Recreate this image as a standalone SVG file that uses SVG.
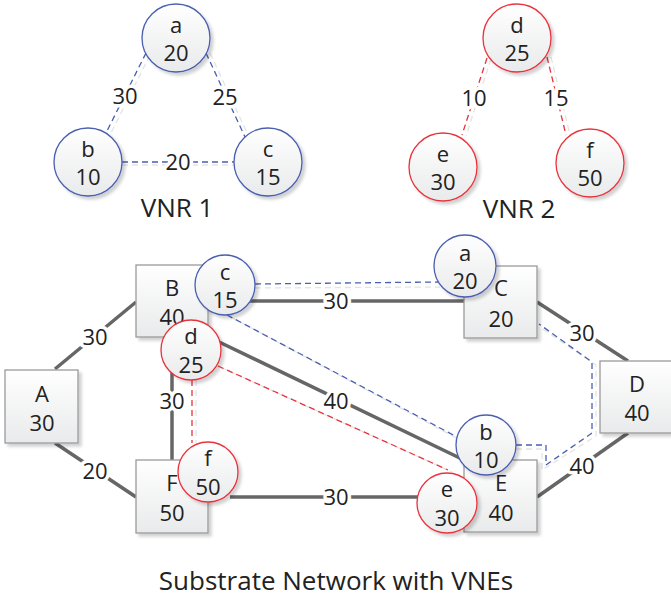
<svg xmlns="http://www.w3.org/2000/svg" width="671" height="599" viewBox="0 0 671 599">
<style>
text{font-family:"Open Sans","Liberation Sans",sans-serif;fill:#222;text-anchor:middle;dominant-baseline:central}
.n{font-size:22px}
.lbl{font-size:22px;paint-order:stroke;stroke:#fff;stroke-width:7px;stroke-linejoin:round}
.cap{font-size:26px}
.sub{stroke:#666;stroke-width:3.5;fill:none}
.vb{stroke:#4a5fb0;stroke-width:1.3;stroke-dasharray:6 4;fill:none}
.vr{stroke:#e8333c;stroke-width:1.3;stroke-dasharray:6 4;fill:none}
.sh{stroke:#e4e4e4;stroke-width:1.3;stroke-dasharray:6 4;fill:none}
.rect{fill:url(#g);stroke:#9a9a9a;stroke-width:1.3;filter:url(#ds)}
.cb{fill:url(#g);stroke:#4a5fb0;stroke-width:1.3;filter:url(#ds)}
.cr{fill:url(#g);stroke:#e8333c;stroke-width:1.3;filter:url(#ds)}
</style>
<defs>
<linearGradient id="g" x1="0" y1="0" x2="0" y2="1">
<stop offset="0" stop-color="#ffffff"/>
<stop offset="1" stop-color="#e9eaeb"/>
</linearGradient>
<filter id="ds" x="-20%" y="-20%" width="150%" height="150%">
<feDropShadow dx="3" dy="3" stdDeviation="1.5" flood-color="#000" flood-opacity="0.18"/>
</filter>
</defs>

<g id="connectors">
<!-- VNR1 -->
<line class="sh" x1="150" y1="55" x2="110" y2="135"/>
<line class="vb" x1="146" y1="53" x2="106" y2="133"/>
<line class="sh" x1="210" y1="53" x2="249" y2="137"/>
<line class="vb" x1="206" y1="53" x2="245" y2="137"/>
<line class="sh" x1="122" y1="165" x2="234" y2="165"/>
<line class="vb" x1="122" y1="162" x2="234" y2="162"/>
<text class="lbl" x="125" y="95">30</text>
<text class="lbl" x="225" y="96">25</text>
<text class="lbl" x="178" y="161">20</text>
<!-- VNR2 -->
<line class="sh" x1="491" y1="59" x2="466" y2="136"/>
<line class="vr" x1="487" y1="58" x2="462" y2="135"/>
<line class="sh" x1="551" y1="57" x2="570" y2="135"/>
<line class="vr" x1="547" y1="57" x2="566" y2="135"/>
<text class="lbl" x="474" y="97">10</text>
<text class="lbl" x="556" y="97">15</text>
<!-- Substrate -->
<line class="sub" x1="55" y1="369" x2="136" y2="302"/>
<line class="sub" x1="55" y1="443" x2="136" y2="497"/>
<line class="sub" x1="172" y1="337" x2="172" y2="460"/>
<line class="sub" x1="240" y1="301" x2="465" y2="301"/>
<line class="sub" x1="537" y1="302" x2="628" y2="361"/>
<line class="sub" x1="537" y1="497" x2="628" y2="433"/>
<line class="sub" x1="215" y1="340" x2="466" y2="461"/>
<line class="sub" x1="230" y1="497" x2="420" y2="497"/>
<!-- virtual mapped links -->
<line class="sh" x1="255" y1="288" x2="440" y2="287"/>
<line class="vb" x1="255" y1="284" x2="438" y2="282"/>
<line class="sh" x1="231" y1="317" x2="460" y2="440"/>
<line class="vb" x1="227" y1="315" x2="457" y2="437"/>
<line class="sh" x1="222" y1="368" x2="452" y2="472"/>
<line class="vr" x1="218" y1="366" x2="448" y2="470"/>
<line class="sh" x1="196" y1="380" x2="196" y2="443"/>
<line class="vr" x1="192" y1="380" x2="192" y2="443"/>
<polyline class="sh" points="516,449 542,449 542,470 596,436 596,365 541,328"/>
<polyline class="vb" points="516,445 546,445 546,465 592,433 592,362 539,324"/>
<text class="lbl" x="95" y="336">30</text>
<text class="lbl" x="95" y="470">20</text>
<text class="lbl" x="172" y="400">30</text>
<text class="lbl" x="336" y="300">30</text>
<text class="lbl" x="582" y="332">30</text>
<text class="lbl" x="582" y="465">40</text>
<text class="lbl" x="336" y="400">40</text>
<text class="lbl" x="336" y="496">30</text>
</g>

<!-- VNR1 nodes -->
<g id="vnr1-a"><circle class="cb" cx="176" cy="38" r="34"/><text class="n" x="176" y="24">a</text><text class="n" x="176" y="52">20</text></g>
<g id="vnr1-b"><circle class="cb" cx="88" cy="162" r="34"/><text class="n" x="88" y="148">b</text><text class="n" x="88" y="176">10</text></g>
<g id="vnr1-c"><circle class="cb" cx="268" cy="162" r="34"/><text class="n" x="268" y="148">c</text><text class="n" x="268" y="176">15</text></g>
<text class="cap" x="177" y="207">VNR 1</text>

<!-- VNR2 nodes -->
<g id="vnr2-d"><circle class="cr" cx="517" cy="38" r="34"/><text class="n" x="517" y="24">d</text><text class="n" x="517" y="52">25</text></g>
<g id="vnr2-e"><circle class="cr" cx="443" cy="167" r="34"/><text class="n" x="443" y="153">e</text><text class="n" x="443" y="181">30</text></g>
<g id="vnr2-f"><circle class="cr" cx="590" cy="163" r="34"/><text class="n" x="590" y="149">f</text><text class="n" x="590" y="177">50</text></g>
<text class="cap" x="519" y="208">VNR 2</text>

<!-- Substrate nodes -->
<g id="sub-A"><rect class="rect" x="5" y="370" width="73" height="73"/><text class="n" x="42" y="393">A</text><text class="n" x="42" y="422">30</text></g>
<g id="sub-B"><rect class="rect" x="136" y="265" width="72" height="72"/><text class="n" x="172" y="287">B</text><text class="n" x="172" y="316">40</text></g>
<g id="sub-C"><rect class="rect" x="464" y="266" width="73" height="72"/><text class="n" x="501" y="287">C</text><text class="n" x="501" y="318">20</text></g>
<g id="sub-D"><rect class="rect" x="600" y="361" width="75" height="72"/><text class="n" x="637" y="383">D</text><text class="n" x="637" y="412">40</text></g>
<g id="sub-E"><rect class="rect" x="464" y="460" width="73" height="72"/><text class="n" x="501" y="482">E</text><text class="n" x="501" y="512">40</text></g>
<g id="sub-F"><rect class="rect" x="136" y="460" width="72" height="73"/><text class="n" x="172" y="482">F</text><text class="n" x="172" y="512">50</text></g>

<!-- mapped virtual nodes -->
<g id="map-c"><circle class="cb" cx="225" cy="285" r="30"/><text class="n" x="225" y="271">c</text><text class="n" x="225" y="299">15</text></g>
<g id="map-a"><circle class="cb" cx="465" cy="266" r="31"/><text class="n" x="465" y="252">a</text><text class="n" x="465" y="280">20</text></g>
<g id="map-d"><circle class="cr" cx="191" cy="350" r="30"/><text class="n" x="191" y="335">d</text><text class="n" x="191" y="364">25</text></g>
<g id="map-f"><circle class="cr" cx="208" cy="472" r="30"/><text class="n" x="208" y="457">f</text><text class="n" x="208" y="486">50</text></g>
<g id="map-b"><circle class="cb" cx="486" cy="445" r="30"/><text class="n" x="486" y="431">b</text><text class="n" x="486" y="459">10</text></g>
<g id="map-e"><circle class="cr" cx="447" cy="503" r="30"/><text class="n" x="447" y="488">e</text><text class="n" x="447" y="517">30</text></g>

<text class="cap" x="336" y="580">Substrate Network with VNEs</text>
</svg>
